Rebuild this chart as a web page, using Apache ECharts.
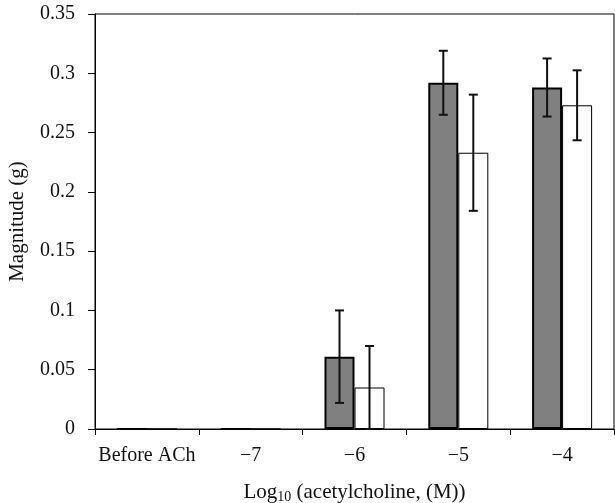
<!DOCTYPE html>
<html>
<head>
<meta charset="utf-8">
<style>
  html, body { margin: 0; padding: 0; background: #fff; }
  #chart { width: 615px; height: 503px; }
</style>
<script src="https://cdn.jsdelivr.net/npm/echarts@6/dist/echarts.min.js"></script>
</head>
<body>
<div id="chart"></div>
<script>
// Acetylcholine dose groups
var categories = ['Before ACh', '\u22127', '\u22126', '\u22125', '\u22124'];
// Mean magnitude (g) per group
var grayValues = [0, 0, 0.061, 0.292, 0.288];
var whiteValues = [0, 0, 0.035, 0.233, 0.273];
// Error half-widths (g)
var grayErrors = [0, 0, 0.039, 0.027, 0.0245];
var whiteErrors = [0, 0, 0.035, 0.049, 0.0295];
// Y tick settings
var yMin = 0, yMax = 0.35, yStep = 0.05;

var BAR_W = 30;
var FONT = '"Liberation Serif", "DejaVu Serif", serif';

function errorSeries(values, errors, offset) {
  var data = values.map(function (v, i) { return [i, v, errors[i]]; });
  return {
    type: 'custom',
    z: 10,
    silent: true,
    data: data,
    renderItem: function (params, api) {
      var i = api.value(0), v = api.value(1), e = api.value(2);
      if (!e) return null;
      var top = api.coord([i, v + e]);
      var bot = api.coord([i, v - e]);
      var x = top[0] + offset;
      var cap = 4.5;
      var st = { stroke: '#111', lineWidth: 2 };
      return {
        type: 'group',
        children: [
          { type: 'line', shape: { x1: x, y1: top[1], x2: x, y2: bot[1] }, style: st },
          { type: 'line', shape: { x1: x - cap, y1: top[1], x2: x + cap, y2: top[1] }, style: st },
          { type: 'line', shape: { x1: x - cap, y1: bot[1], x2: x + cap, y2: bot[1] }, style: st }
        ]
      };
    }
  };
}

var chart = echarts.init(document.getElementById('chart'), null, { renderer: 'canvas' });
chart.setOption({
  animation: false,
  backgroundColor: '#fff',
  textStyle: { fontFamily: FONT },
  grid: {
    left: 95, right: 1, top: 14, bottom: 74,
    outerBoundsMode: 'none',
    containLabel: false,
    show: true, borderColor: '#000', borderWidth: 1, backgroundColor: 'transparent'
  },
  xAxis: {
    type: 'category',
    data: categories,
    boundaryGap: true,
    axisLine: { lineStyle: { color: '#000', width: 1 } },
    axisTick: { show: true, length: 6, alignWithLabel: false, lineStyle: { color: '#000' } },
    axisLabel: { color: '#111', fontFamily: FONT, fontSize: 20, margin: 17, interval: 0, hideOverlap: false },
    name: 'Log{sub|10} (acetylcholine, (M))',
    nameLocation: 'middle',
    nameGap: 52,
    nameTextStyle: {
      color: '#111', fontFamily: FONT, fontSize: 21,
      rich: { sub: { fontSize: 14, verticalAlign: 'bottom', padding: [9, 0, 0, 0], fontFamily: FONT, color: '#111' } }
    }
  },
  yAxis: {
    type: 'value',
    min: yMin, max: yMax, interval: yStep,
    splitLine: { show: false },
    axisLine: { show: true, lineStyle: { color: '#000', width: 1 } },
    axisTick: { show: true, length: 7, lineStyle: { color: '#000' } },
    axisLabel: { color: '#111', fontFamily: FONT, fontSize: 20, margin: 20 },
    name: 'Magnitude (g)',
    nameLocation: 'middle',
    nameGap: 67,
    nameTextStyle: { color: '#111', fontFamily: FONT, fontSize: 21 }
  },
  series: [
    {
      type: 'bar',
      data: grayValues,
      barWidth: BAR_W,
      barGap: '0%',
      itemStyle: { color: '#808080', borderColor: '#000', borderWidth: 2 }
    },
    {
      type: 'bar',
      data: whiteValues,
      barWidth: BAR_W,
      barGap: '0%',
      itemStyle: { color: '#fff', borderColor: '#000', borderWidth: 1 }
    },
    errorSeries(grayValues, grayErrors, -BAR_W / 2),
    errorSeries(whiteValues, whiteErrors, BAR_W / 2)
  ]
});
</script>
</body>
</html>
